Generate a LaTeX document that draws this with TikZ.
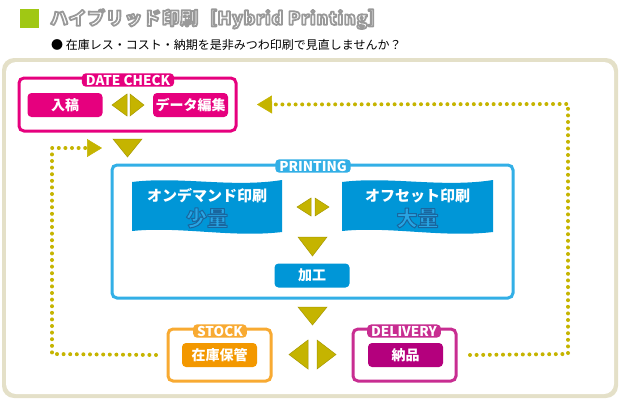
\documentclass[tikz,border=0pt]{standalone}
\usepackage{fontspec}
\setmainfont{Noto Sans CJK JP}
\usetikzlibrary{arrows.meta}

\definecolor{frameedge}{RGB}{228,224,200}
\definecolor{titlegreen}{RGB}{160,200,20}
\definecolor{arrowgold}{RGB}{197,180,0}
\definecolor{datepink}{RGB}{230,0,126}
\definecolor{printline}{RGB}{50,175,230}
\definecolor{printbox}{RGB}{0,150,215}
\definecolor{qtyblue}{RGB}{40,165,228}
\definecolor{stockline}{RGB}{248,170,50}
\definecolor{stockfill}{RGB}{243,152,0}
\definecolor{dlvline}{RGB}{200,45,145}
\definecolor{dlvfill}{RGB}{180,0,125}

\newcommand\hdrfont{\bfseries\fontsize{18}{18}\selectfont\addfontfeature{LetterSpace=3.5}}
\newcommand\rimtext[3]{\special{pdf:literal direct 1 j #1 w #2 RG 2 Tr}#3\special{pdf:literal direct 0 Tr}}

\begin{document}
\begin{tikzpicture}[x=1pt, y=-1pt, >={Triangle[length=15pt, width=18pt, line width=0.5pt]},
  group/.style={draw, line width=3pt, rounded corners=5pt, fill=white},
  tag/.style={text=white, font=\bfseries\fontsize{13.5}{13.5}\selectfont, rounded corners=4pt, inner xsep=4pt, inner ysep=1.5pt},
  task/.style={text=white, font=\bfseries\fontsize{14}{14}\selectfont, rounded corners=4pt, minimum width=75pt, minimum height=24pt, inner sep=0pt},
  qty/.style={text=qtyblue, font=\bfseries\fontsize{21}{21}\selectfont},
  dotline/.style={arrowgold, line width=4pt, line cap=round, dash pattern=on 0pt off 6.6pt},
  tri/.style={fill=arrowgold, draw=arrowgold!85!black, line width=0.5pt}]
\useasboundingbox (0,0) rectangle (620,400);
\fill[frameedge, rounded corners=12pt] (2,58) rectangle (618,398);
\fill[white, rounded corners=10pt] (6,62) rectangle (614,394);
\fill[titlegreen] (20,9) rectangle (39,28);
\node[anchor=west, text=white, font=\hdrfont, inner sep=0pt] (ttl) at (50,19) {\rimtext{1.8}{0.6 0.6 0.6}{ハイブリッド印刷［Hybrid Printing］}};
\node[anchor=west, font=\fontsize{12}{12}\selectfont, inner sep=0pt] (lead) at (51,45) {● 在庫レス・コスト・納期を是非みつわ印刷で見直しませんか？};
\node[group, draw=datepink, minimum width=217pt, minimum height=53pt] (dc) at (127.5,104.5) {};
\node[tag, fill=datepink] (dctag) at (128,80) {DATE CHECK};
\node[task, fill=datepink] (nyuko) at (65,105) {入稿};
\node[task, fill=datepink] (edit) at (190.5,105) {データ編集};
\fill[tri] (112,105) -- (127,94) -- (127,116) -- cycle;
\fill[tri] (144,105) -- (130,94) -- (130,116) -- cycle;
\fill[tri] (113,139) -- (142,139) -- (127.5,157) -- cycle;
\node[group, draw=printline, minimum width=401pt, minimum height=133pt] (prn) at (312.5,231.5) {};
\node[tag, fill=printline] (prntag) at (313,166) {PRINTING};
\fill[printbox] (132,182) .. controls (180,176) and (232,188) .. (282,180) -- (282,232) .. controls (232,238) and (180,226) .. (132,231) -- cycle;
\fill[printbox] (342,182) .. controls (390,176) and (442,188) .. (493,180) -- (493,232) .. controls (442,238) and (390,226) .. (342,231) -- cycle;
\node[text=white, font=\bfseries\fontsize{15}{15}\selectfont] (ondemand) at (207,196) {オンデマンド印刷};
\node[qty] (small) at (207,218) {\rimtext{1}{0.1 0.4 0.62}{少量}};
\node[text=white, font=\bfseries\fontsize{15}{15}\selectfont] (offset) at (417.5,196) {オフセット印刷};
\node[qty] (large) at (417.5,218) {\rimtext{1}{0.1 0.4 0.62}{大量}};
\fill[tri] (297,207) -- (311,198) -- (311,216) -- cycle;
\fill[tri] (329,207) -- (315,198) -- (315,216) -- cycle;
\fill[tri] (298,237) -- (327,237) -- (312.5,256) -- cycle;
\node[task, fill=printbox] (kako) at (312,275.5) {加工};
\fill[tri] (298,307) -- (327,307) -- (312.5,325) -- cycle;
\node[group, draw=stockline, minimum width=103pt, minimum height=52pt] (stk) at (219.5,355) {};
\node[tag, fill=stockline] (stktag) at (220,331) {STOCK};
\node[task, fill=stockfill] (hokan) at (219.5,355) {在庫保管};
\fill[tri] (289,354.5) -- (308,340) -- (308,369) -- cycle;
\fill[tri] (336,354.5) -- (317,340) -- (317,369) -- cycle;
\node[group, draw=dlvline, minimum width=103pt, minimum height=52pt] (dlv) at (404.5,355) {};
\node[tag, fill=dlvline] (dlvtag) at (404,331) {DELIVERY};
\node[task, fill=dlvfill] (nohin) at (405.5,355) {納品};
\coordinate (ne) at (568,104);
\coordinate (se) at (568,354);
\coordinate (sw) at (52,354);
\coordinate (nw) at (52,148);
\coordinate (entry) at (102,148);
\draw[dotline, ->] ([xshift=12.5pt]dlv.east) -- (se) -- (ne) -- ([xshift=19.5pt]dc.east);
\draw[dotline, ->] ([xshift=-10.5pt]stk.west) -- (sw) -- (nw) -- (entry);
\end{tikzpicture}
\end{document}
